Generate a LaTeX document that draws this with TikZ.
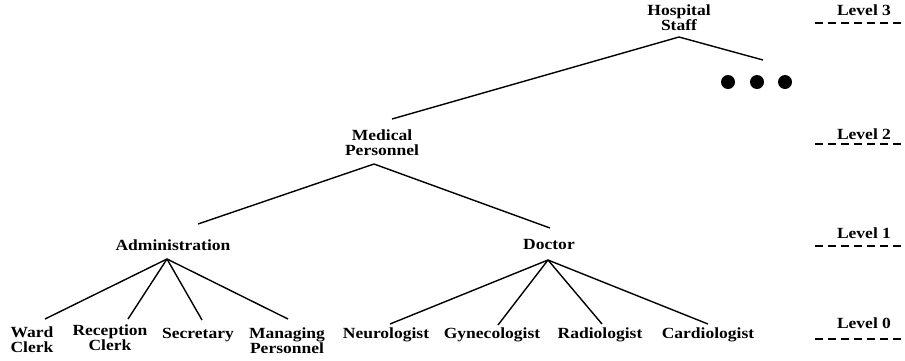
\documentclass[tikz,border=0pt]{standalone}
\usepackage{fontspec}
\newfontfamily\lbl{Liberation Serif}[FakeStretch=1.13]
\begin{document}
\begin{tikzpicture}[x=1pt,y=-1pt,
  lab/.style={font=\lbl\bfseries\fontsize{15.5}{14.5}\selectfont, inner sep=0pt, anchor=base, align=center},
  edge/.style={line width=1.4pt},
  lvl/.style={font=\lbl\bfseries\fontsize{15.5}{14.5}\selectfont, inner sep=0pt, anchor=base},
  lvline/.style={line width=1.1pt, dash pattern=on 8pt off 5pt},
  dot/.style={circle, fill=black, minimum size=14pt, inner sep=0pt}]
\useasboundingbox (0,0) rectangle (905,360);
% nodes (base = baseline of the last line)
\node[lab] (hs)  at (679,30)  {Hospital\\Staff};
\node[lab] (ms)  at (382,155) {Medical\\Personnel};
\node[lab] (adm) at (173,250) {Administration};
\node[lab] (doc) at (549,249) {Doctor};
\node[lab] (wc)  at (32,352)  {Ward\\Clerk};
\node[lab] (rc)  at (110,350) {Reception\\Clerk};
\node[lab] (sec) at (198,338) {Secretary};
\node[lab] (mp)  at (287,353) {Managing\\Personnel};
\node[lab] (neu) at (386,338) {Neurologist};
\node[lab] (gyn) at (492,338) {Gynecologist};
\node[lab] (rad) at (600,338) {Radiologist};
\node[lab] (car) at (708,338) {Cardiologist};
\node[dot] (d1) at (728,82) {};
\node[dot] (d2) at (757,82) {};
\node[dot] (d3) at (785,82) {};
% connectors
\coordinate (hsb) at ([shift={(0,7)}]hs.base);
\coordinate (more) at (763,60);
\draw[edge] (hsb) -- ([shift={(10,-36)}]ms.base);
\draw[edge] (hsb) -- (more);
\coordinate (msb) at ([shift={(-8,9)}]ms.base);
\draw[edge] (msb) -- ([shift={(25,-26)}]adm.base);
\draw[edge] (msb) -- ([shift={(1,-21)}]doc.base);
\coordinate (admb) at ([shift={(-6,9)}]adm.base);
\draw[edge] (admb) -- ([shift={(13,-33)}]wc.base);
\draw[edge] (admb) -- ([shift={(18,-31)}]rc.base);
\draw[edge] (admb) -- ([shift={(4,-18)}]sec.base);
\draw[edge] (admb) -- ([shift={(1,-34)}]mp.base);
\coordinate (docb) at ([shift={(-1,11)}]doc.base);
\draw[edge] (docb) -- ([shift={(4,-14)}]neu.base);
\draw[edge] (docb) -- ([shift={(6,-13)}]gyn.base);
\draw[edge] (docb) -- ([shift={(2,-14)}]rad.base);
\draw[edge] (docb) -- ([shift={(0,-14)}]car.base);
% levels
\node[lvl] (l3) at (864,15)  {Level 3};
\node[lvl] (l2) at (864,139) {Level 2};
\node[lvl] (l1) at (864,238) {Level 1};
\node[lvl] (l0) at (864,328) {Level 0};
\coordinate (l3a) at (815,23);  \coordinate (l3b) at (905,23);
\coordinate (l2a) at (815,144); \coordinate (l2b) at (905,144);
\coordinate (l1a) at (815,246); \coordinate (l1b) at (905,246);
\coordinate (l0a) at (815,339); \coordinate (l0b) at (905,339);
\draw[lvline] (l3a) -- (l3b);
\draw[lvline] (l2a) -- (l2b);
\draw[lvline] (l1a) -- (l1b);
\draw[lvline] (l0a) -- (l0b);
\end{tikzpicture}
\end{document}
